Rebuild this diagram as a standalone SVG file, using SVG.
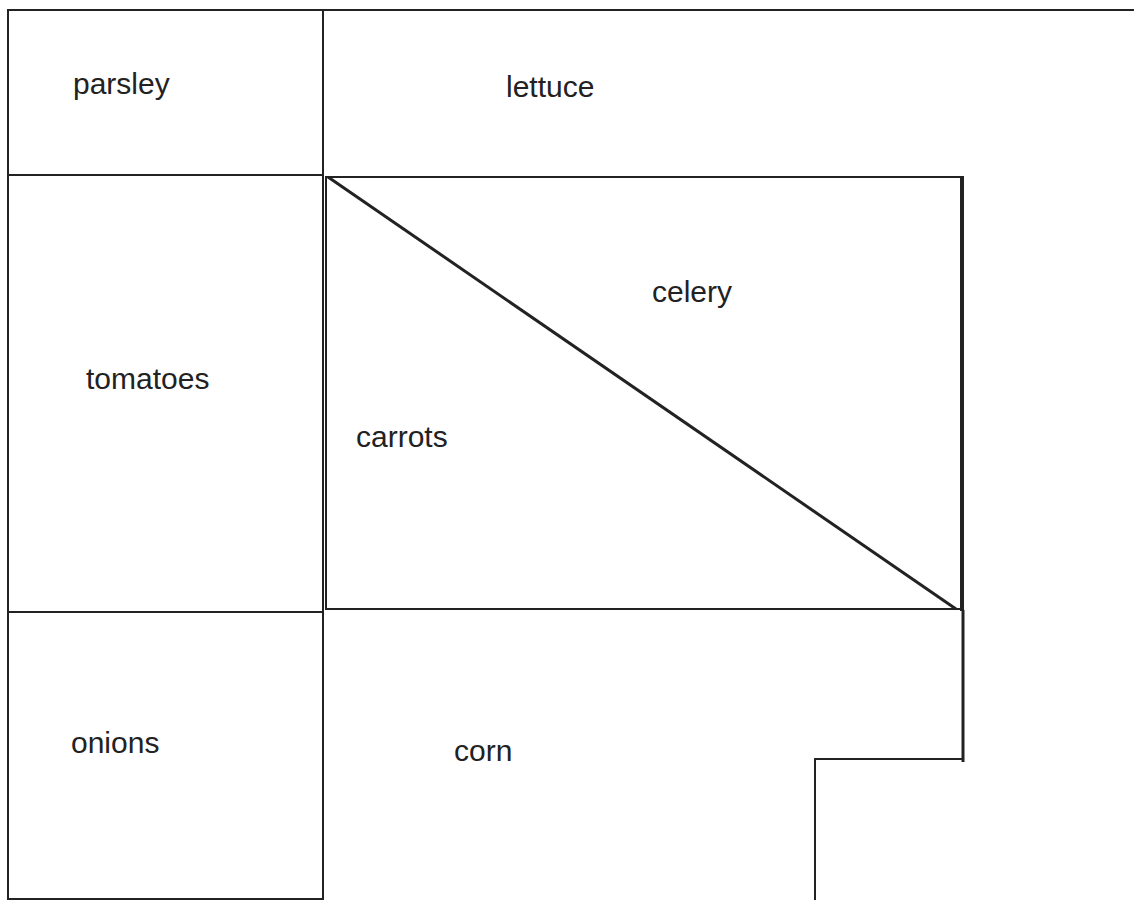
<svg xmlns="http://www.w3.org/2000/svg" width="1134" height="900" viewBox="0 0 1134 900">
<style>
.ln{stroke:#222;stroke-width:2;fill:none;stroke-linecap:square}
.lbl{font-family:"Liberation Sans",Arial,sans-serif;font-size:30px;fill:#222}
</style>
<rect width="1134" height="900" fill="#fff"/>
<g id="parsley"><rect class="ln" x="8" y="10" width="315" height="165"/><text class="lbl" x="73" y="94">parsley</text></g>
<g id="lettuce"><path class="ln" d="M323 10 H1134"/><text class="lbl" x="506" y="97">lettuce</text></g>
<g id="tomatoes"><rect class="ln" x="8" y="175" width="315" height="437"/><text class="lbl" x="86" y="389">tomatoes</text></g>
<g id="bed"><path class="ln" d="M326 177 H960 M326 177 V609 H960"/><path d="M962 176 V611" stroke="#222" stroke-width="4"/></g>
<g id="celery"><text class="lbl" x="652" y="302">celery</text></g>
<g id="carrots"><text class="lbl" x="356" y="447">carrots</text></g>
<g id="divider"><path d="M328 177 L956 609" stroke="#222" stroke-width="3"/></g>
<g id="onions"><rect class="ln" x="8" y="612" width="315" height="287"/><text class="lbl" x="71" y="753">onions</text></g>
<g id="corn"><path d="M963 610 V762" stroke="#222" stroke-width="3"/><path class="ln" d="M963 759 H815 V900"/><text class="lbl" x="454" y="761">corn</text></g>
</svg>
